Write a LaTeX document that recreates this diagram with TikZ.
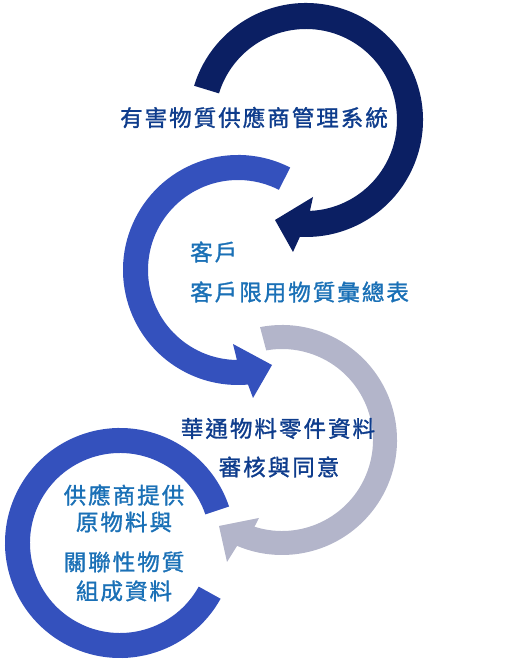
\documentclass[tikz,border=0pt]{standalone}
\usepackage{fontspec}
\newfontfamily\cjk[LetterSpace=9,FakeBold=1.3]{Noto Sans CJK TC}
\definecolor{navyc}{HTML}{0B1F63}
\definecolor{royalc}{HTML}{3451BD}
\definecolor{grayc}{HTML}{B3B5CA}
\definecolor{darktxt}{HTML}{0E3C8C}
\definecolor{midtxt}{HTML}{1A70B6}
\tikzset{
  lbl/.style={inner sep=0pt, font=\cjk\fontsize{22.5}{27}\selectfont},
}
\begin{document}
\begin{tikzpicture}[x=1pt,y=1pt]
\useasboundingbox (0,0) rectangle (507,663);
% navy arrow
\fill[navyc] ([shift={(306,543)}]163:117) arc[start angle=163, end angle=-93, radius=117]
  -- (293,411) -- (275,443) -- (313,466)
  -- ([shift={(306,543)}]-87.5:91) arc[start angle=-87.5, end angle=163, radius=91] -- cycle;
% royal blue arrow
\fill[royalc] ([shift={(238,393)}]63:115) arc[start angle=63, end angle=275, radius=115]
  -- (253,265) -- (272,298) -- (233,319)
  -- ([shift={(238,393)}]269.3:90) arc[start angle=269.3, end angle=63, radius=90] -- cycle;
% gray arrow
\fill[grayc] ([shift={(282,223)}]101:115) arc[start angle=101, end angle=-113, radius=115]
  -- (227,101) -- (219,137) -- (259,145)
  -- ([shift={(282,223)}]-107.6:91) arc[start angle=-107.6, end angle=100, radius=91] -- cycle;
% blue ring
\fill[royalc] ([shift={(120,120)}]18.5:115) arc[start angle=18.5, end angle=331, radius=115]
  -- ([shift={(120,120)}]331:90) arc[start angle=331, end angle=18.5, radius=90] -- cycle;
% texts
\node[lbl, text=darktxt] (t1) at (254,545.5) {有害物質供應商管理系統};
\node[lbl, text=midtxt, anchor=west] (t2) at (190,411) {客戶};
\node[lbl, text=midtxt, anchor=west] (t3) at (190,371) {客戶限用物質彙總表};
\node[lbl, text=darktxt] (t4) at (278,234.5) {華通物料零件資料};
\node[lbl, text=darktxt] (t5) at (279,196) {審核與同意};
\node[lbl, text=midtxt] (t6) at (124,168) {供應商提供};
\node[lbl, text=midtxt] (t7) at (124,141) {原物料與};
\node[lbl, text=midtxt] (t8) at (124,101) {關聯性物質};
\node[lbl, text=midtxt] (t9) at (124,72) {組成資料};
\end{tikzpicture}
\end{document}
